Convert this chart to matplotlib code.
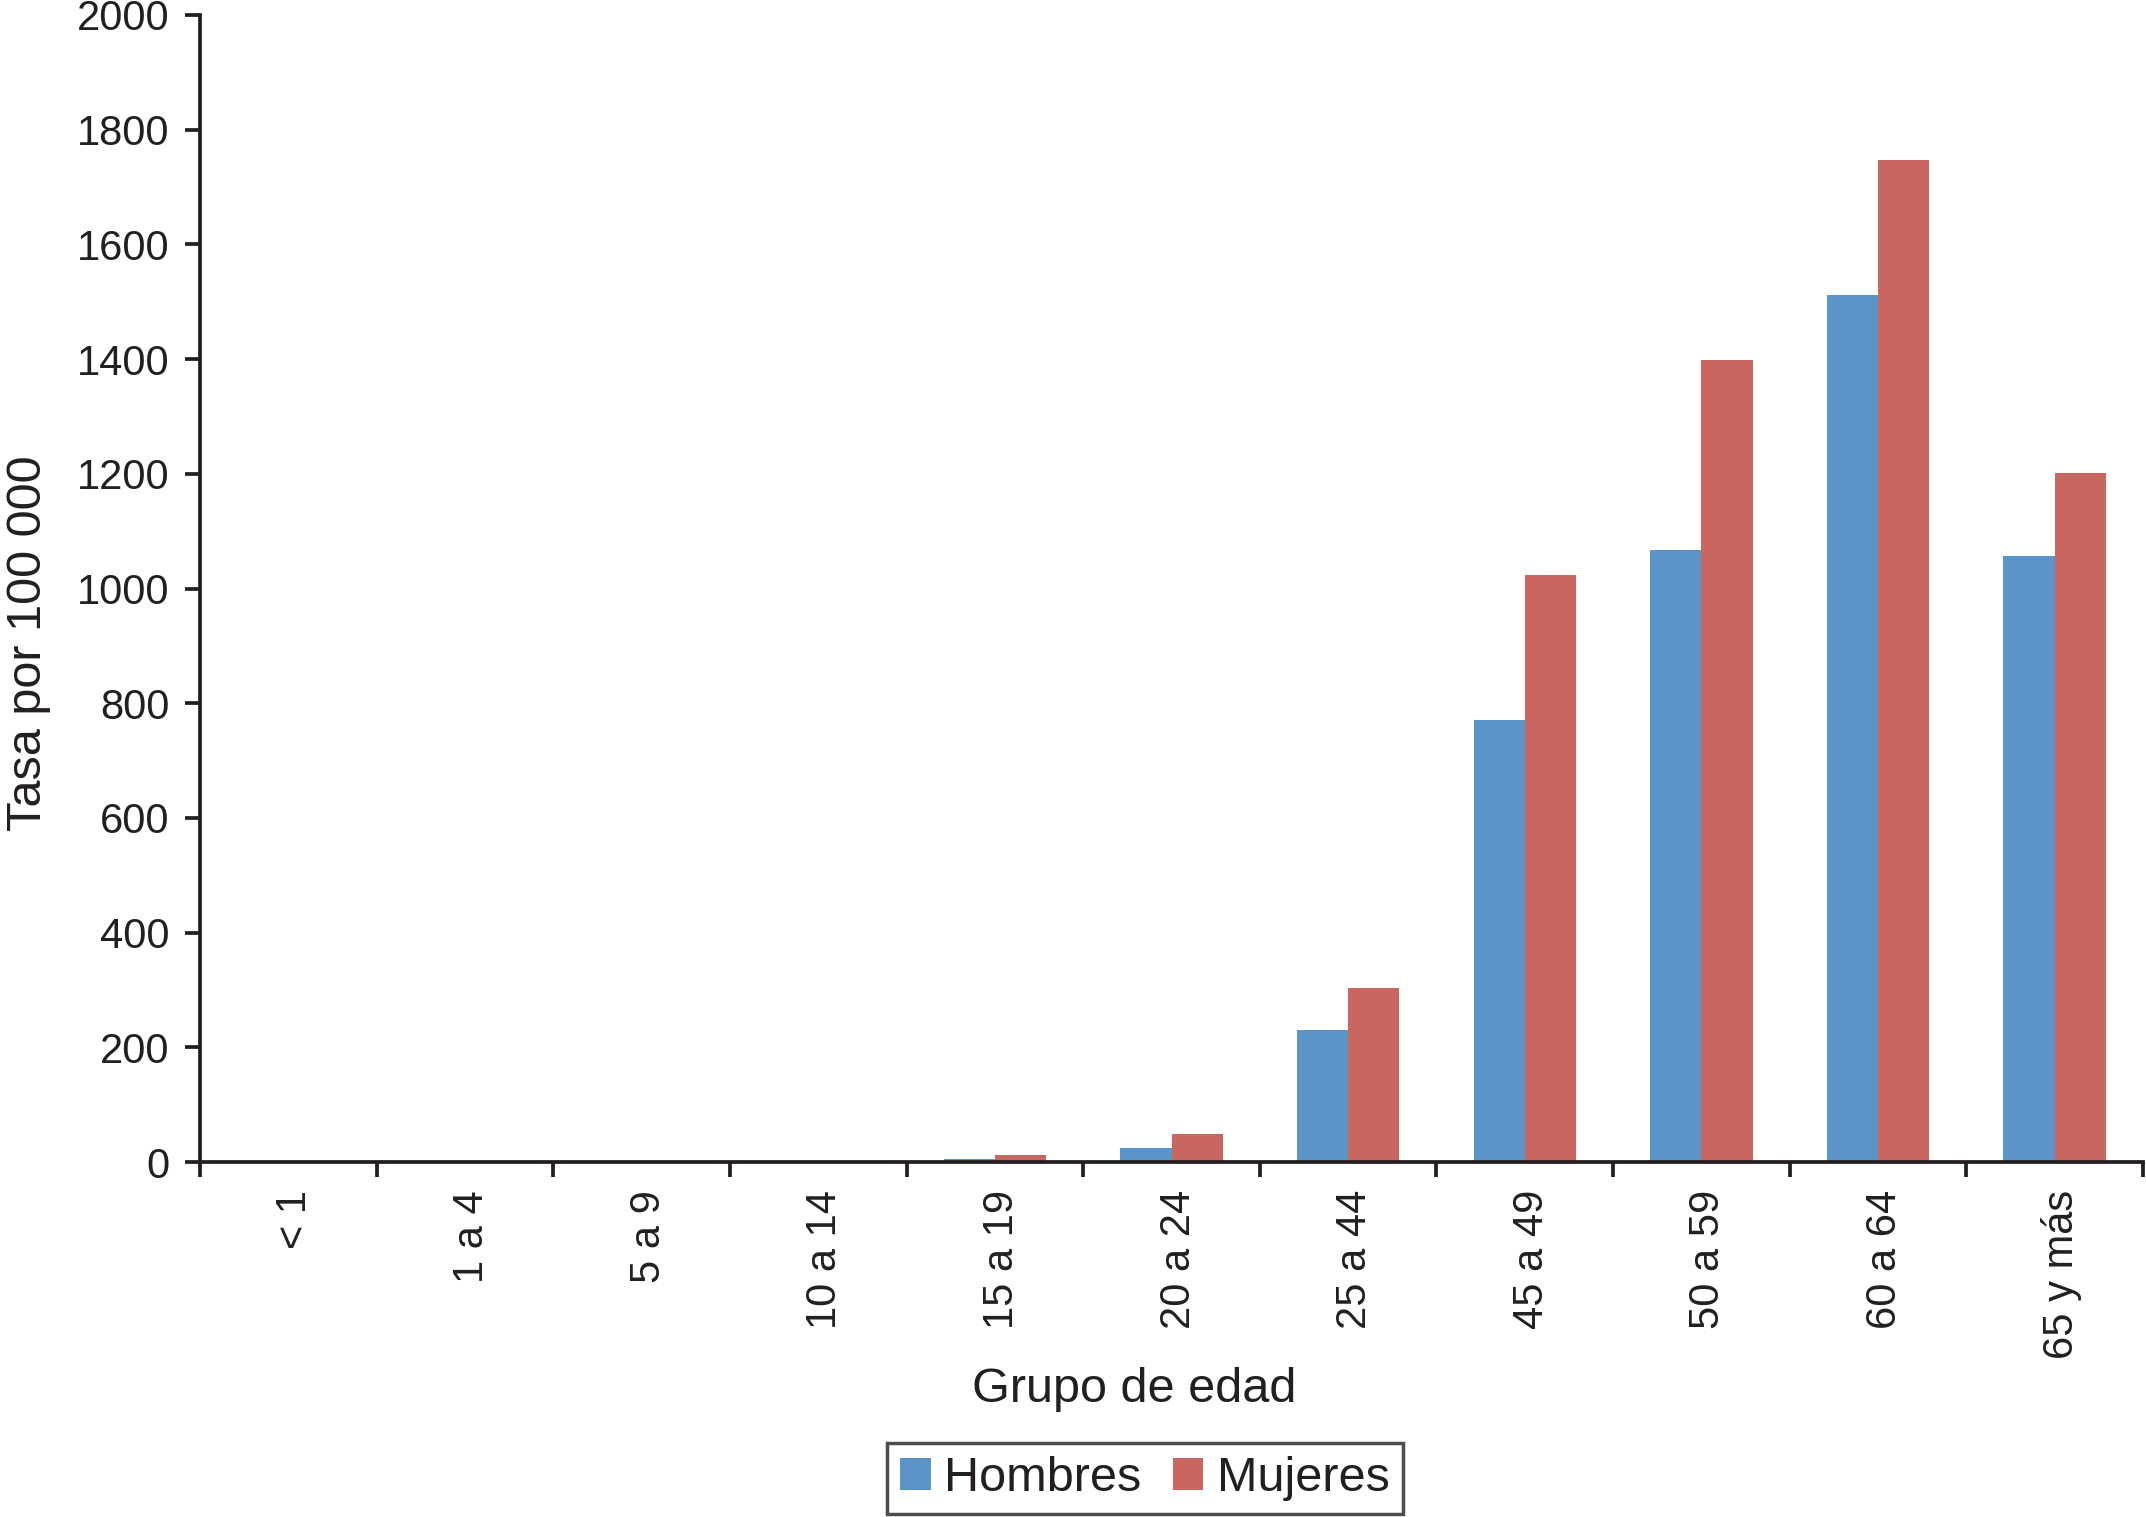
import matplotlib
matplotlib.use('Agg')
import matplotlib.pyplot as plt
import matplotlib.transforms as mtransforms
import numpy as np

# data
grupos = ['< 1', '1 a 4', '5 a 9', '10 a 14', '15 a 19', '20 a 24',
          '25 a 44', '45 a 49', '50 a 59', '60 a 64', '65 y más']
hombres = [0, 0, 0, 0, 6, 24, 230, 770, 1068, 1512, 1057]
mujeres = [0, 0, 0, 0, 13, 48, 304, 1024, 1399, 1747, 1202]

azul = '#5B94C8'
rojo = '#C9665F'

plt.rcParams['font.family'] = ['Liberation Sans', 'DejaVu Sans']
plt.rcParams['text.color'] = '#231f20'

fig = plt.figure(figsize=(21.46, 15.17), dpi=100)
ax = fig.add_axes([200 / 2146, 1 - 1162 / 1517, 1943 / 2146, 1147 / 1517])

x = np.arange(len(grupos))
w = 0.29
ax.bar(x - w / 2, hombres, w, color=azul, label='Hombres', zorder=2)
ax.bar(x + w / 2, mujeres, w, color=rojo, label='Mujeres', zorder=2)

ax.set_xlim(-0.5, len(grupos) - 0.5)
ax.set_ylim(0, 2000)
ax.set_yticks(np.arange(0, 2001, 200))

# ticks on the category boundaries, labels in the middle
ax.set_xticks(np.arange(-0.5, len(grupos), 1.0))
ax.set_xticklabels([])
ax.set_xticks(x, minor=True)
ax.set_xticklabels(grupos, minor=True, rotation=90, ha='center', va='top')
ax.tick_params(axis='x', which='minor', length=0, pad=20, labelsize=30)
ax.tick_params(axis='x', which='major', direction='out', length=11, width=2.7,
               color='#231f20')
ax.tick_params(axis='y', direction='out', length=11, width=2.7, pad=11,
               labelsize=30, color='#231f20', labelcolor='#231f20')
ax.tick_params(axis='x', labelcolor='#231f20', which='both')

# the rotated labels sit a little right of the category centre
shift = mtransforms.ScaledTranslation(7 / 100, 0, fig.dpi_scale_trans)
for lbl in ax.get_xticklabels(minor=True):
    lbl.set_transform(lbl.get_transform() + shift)

for s in ['top', 'right']:
    ax.spines[s].set_visible(False)
for s in ['left', 'bottom']:
    ax.spines[s].set_linewidth(2.7)
    ax.spines[s].set_color('#231f20')
    ax.spines[s].set_zorder(3)

fig.text(1134 / 2146, 1 - 1402 / 1517, 'Grupo de edad', fontsize=35,
         ha='center', va='baseline')
fig.text(29 / 2146, 1 - 643 / 1517, 'Tasa por 100 000', fontsize=35,
         rotation=90, ha='center', va='center')

leg = fig.legend(loc='lower center', bbox_to_anchor=(1145 / 2146, 3 / 1517),
                 ncol=2, fontsize=35, frameon=True, fancybox=False,
                 handlelength=0.62, handleheight=0.62, handletextpad=0.28,
                 columnspacing=0.65, borderpad=0.27, borderaxespad=0)
leg.get_frame().set_edgecolor('#231f20')
leg.get_frame().set_linewidth(2.5)

fig.savefig('out.png', dpi=100, facecolor='white')
